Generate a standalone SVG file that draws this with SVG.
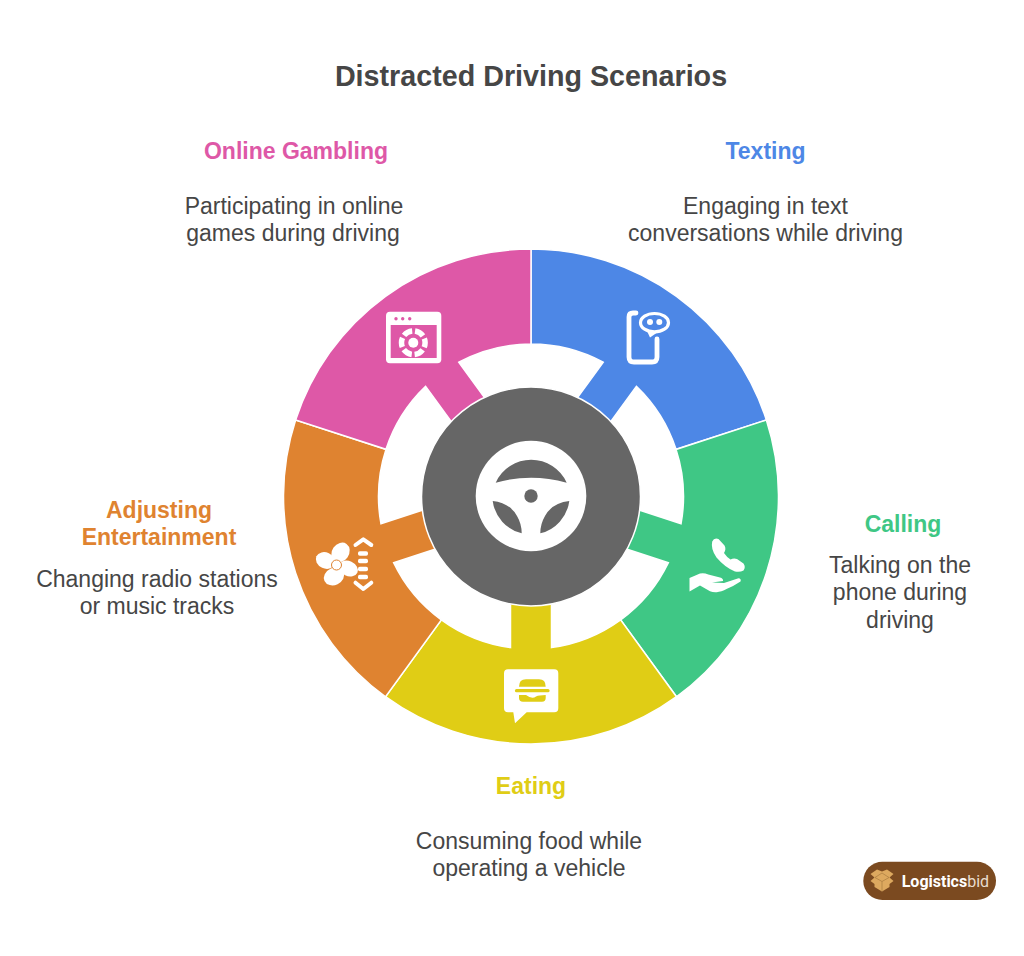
<svg xmlns="http://www.w3.org/2000/svg" xmlns:xlink="http://www.w3.org/1999/xlink" width="1024" height="956" viewBox="0 0 1024 956">
<style>
text{font-family:"Liberation Sans",Arial,sans-serif;text-anchor:middle}
.title{font-size:28.700px;font-weight:700;fill:#464646}
.head{font-size:23px;font-weight:700}
.body{font-size:23px;fill:#464646}
.seg{stroke:#fff;stroke-width:1.500;stroke-linejoin:miter}
.w{fill:#fff}
.ws{fill:none;stroke:#fff}
</style>
<defs>
<path id="sector" d="M-145.500-200.200A247.500 247.500 0 0 1 145.500-200.200L89.600-123.400A152.500 152.500 0 0 0 20.500-151.100V-107H-20.500V-151.100A152.500 152.500 0 0 0-89.600-123.400Z"/>
</defs>
<rect width="1024" height="956" fill="#fff"/>
<text class="title" x="531" y="85.700">Distracted Driving Scenarios</text>

<g id="connectors"></g>

<g id="texting">
<use href="#sector" class="seg" fill="#4D87E6" transform="translate(531 496.5) rotate(36)"/>
<path class="ws" stroke-width="4.800" stroke-linecap="round" d="M636 313H633Q629 313 629 317V357Q629 362 634 362H652Q657 362 657 357V339"/>
<ellipse class="ws" stroke-width="3.200" cx="654.500" cy="322.700" rx="14" ry="9.200"/>
<path class="w" d="M647 331L650 337.500L658 332Z"/>
<circle class="w" cx="650" cy="322" r="3"/><circle class="w" cx="659.300" cy="322" r="3"/>
<text class="head" x="765.500" y="158.800" fill="#4D87E6">Texting</text>
<text class="body" x="765.500" y="213.800">Engaging in text</text>
<text class="body" x="765.500" y="240.800">conversations while driving</text>
</g>

<g id="calling">
<use href="#sector" class="seg" fill="#3FC785" transform="translate(531 496.5) rotate(108)"/>
<path class="w" d="M712.200 541.500Q714 537.500 718.500 539L724.500 545.500Q726.500 549 724 553Q727 557.500 730.500 559.500Q733.500 558 737 559L743.500 563.500Q746 567 743.500 570.500Q740 572.500 735 571.500Q725 567.500 716.500 557.500Q710.500 549 712.200 541.500Z"/>
<path class="w" d="M689.500 578L700 573.500Q704 572.500 708.300 574.500L720 577.500Q723.500 578.500 723 581L712 582.500L724 583L738.500 578.300Q741.500 578.500 740.500 581.500Q733 586.500 727 588.800Q721 592 716.700 592.200Q713 592.500 710 591.200L700 585.500L689.500 591.500Z"/>
<text class="head" x="903" y="531.800" fill="#3FC785">Calling</text>
<text class="body" x="900" y="572.800">Talking on the</text>
<text class="body" x="900" y="600.300">phone during</text>
<text class="body" x="900" y="627.800">driving</text>
</g>

<g id="eating">
<use href="#sector" class="seg" fill="#E0CD15" transform="translate(531 496.5) rotate(180)"/>
<path class="w" d="M508 669.300H554.300Q558.300 669.300 558.300 673.300V708.300Q558.300 712.300 554.300 712.300H526.700L515 723.300L513.300 712.300H508Q504 712.300 504 708.300V673.300Q504 669.300 508 669.300Z"/>
<path fill="#E0CD15" d="M519 686.700Q519 679.300 526 679.300H539Q545.700 679.300 545.700 686.700Z"/>
<path fill="none" stroke="#E0CD15" stroke-width="3.200" stroke-linecap="round" d="M516.500 690.700H548"/>
<path fill="#E0CD15" d="M519 695H526Q532 699.500 536 696.500Q539 695 545.700 695V698Q545.700 701.700 542 701.700H523Q519 701.700 519 698Z"/>
<text class="head" x="531" y="793.800" fill="#E0CD15">Eating</text>
<text class="body" x="529" y="848.800">Consuming food while</text>
<text class="body" x="529" y="875.800">operating a vehicle</text>
</g>

<g id="entertainment">
<use href="#sector" class="seg" fill="#DF8330" transform="translate(531 496.5) rotate(252)"/>
<ellipse class="w" cx="340.500" cy="552.500" rx="10.500" ry="8.500" transform="rotate(-55 340.500 552.500)"/>
<ellipse class="w" cx="325.500" cy="560.500" rx="10" ry="8" transform="rotate(25 325.500 560.500)"/>
<ellipse class="w" cx="334" cy="576.500" rx="10.500" ry="8.500" transform="rotate(-25 334 576.500)"/>
<ellipse class="w" cx="348.300" cy="568.500" rx="10" ry="7.500" transform="rotate(25 348.300 568.500)"/>
<circle class="w" cx="336.500" cy="565" r="5" stroke="#DF8330" stroke-width="1"/>
<path class="ws" stroke-width="4" stroke-linecap="round" stroke-linejoin="round" d="M355.500 545L363.300 539.300L371.300 545M355.500 582.700L363.300 589L371.300 582.700"/>
<rect class="w" x="358" y="551.300" width="10" height="4.400" rx="1.800"/>
<rect class="w" x="358" y="558.800" width="10" height="4.400" rx="1.800"/>
<rect class="w" x="358" y="566.800" width="10" height="4.400" rx="1.800"/>
<rect class="w" x="358" y="574.800" width="10" height="4.400" rx="1.800"/>
<text class="head" x="159" y="517.800" fill="#DF8330">Adjusting</text>
<text class="head" x="159" y="544.800" fill="#DF8330">Entertainment</text>
<text class="body" x="157" y="586.800">Changing radio stations</text>
<text class="body" x="157" y="613.800">or music tracks</text>
</g>

<g id="gambling">
<use href="#sector" class="seg" fill="#DE58A7" transform="translate(531 496.5) rotate(324)"/>
<rect class="w" x="386" y="311.700" width="55.300" height="51.600" rx="4"/>
<rect x="390.700" y="325" width="46" height="33" fill="#DE58A7"/>
<circle cx="396" cy="318.700" r="1.700" fill="#DE58A7"/><circle cx="402.700" cy="318.700" r="1.700" fill="#DE58A7"/><circle cx="409.700" cy="318.700" r="1.700" fill="#DE58A7"/>
<circle class="w" cx="413.300" cy="342.700" r="5"/>
<circle class="ws" cx="413.300" cy="342.700" r="11.800" stroke-width="5.500" stroke-dasharray="9.400 2.950" stroke-dashoffset="4.700"/>
<text class="head" x="296" y="158.800" fill="#DE58A7">Online Gambling</text>
<text class="body" x="294" y="213.800">Participating in online</text>
<text class="body" x="293" y="240.800">games during driving</text>
</g>

<g id="hub">
<circle cx="531" cy="496.500" r="109.500" fill="#666" stroke="#fff" stroke-width="1.500"/>
<circle cx="531" cy="496" r="55.300" fill="#fff"/>
<path fill="#666" d="M495.700 482.700A39 39 0 0 1 566.700 482.700Q531 472.700 495.700 482.700Z"/>
<path fill="#666" d="M492.700 501Q510 503 517 516Q521.700 524 521.700 533.300A38.500 38.500 0 0 1 492.700 501Z"/>
<path fill="#666" d="M569.300 501Q552 503 545 516Q540.300 524 540.300 533.300A38.500 38.500 0 0 0 569.300 501Z"/>
<circle cx="531" cy="496" r="6.700" fill="#666"/>
</g>

<g id="logo">
<rect x="863.300" y="861.700" width="132.700" height="38.300" rx="19.100" fill="#7B4A20"/>
<path fill="#DDA95F" d="M870.500 874L877 869.500L882 871.500L887 869.500L893.500 874L889.500 877.500L893.500 881L889.500 884V887L882 891.500L874.500 887V884L870.500 881L874.500 877.500Z"/>
<path fill="none" stroke="#A87B3F" stroke-width="0.700" d="M875 877.500L882 881.500L889 877.500M882 881.500V891.500M882 873L875 877.500M882 873L889 877.500"/>
<text x="901.700" y="886.500" style="text-anchor:start;font-family:Roboto,'Liberation Sans',sans-serif;font-size:16px;fill:#fff"><tspan font-weight="700">Logistics</tspan><tspan fill="#e9ddcf">bid</tspan></text>
</g>
</svg>
